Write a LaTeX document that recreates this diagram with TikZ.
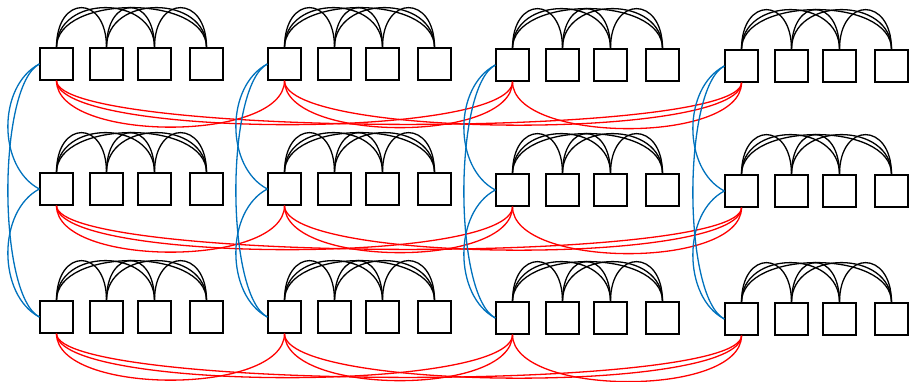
\documentclass[tikz,border=0pt]{standalone}
\definecolor{linkblue}{RGB}{0,114,189}
\begin{document}
\begin{tikzpicture}[x=1pt,y=-1pt,
  cell/.style={draw,line width=1.3pt,minimum width=33pt,minimum height=32pt,inner sep=0pt},
  intra/.style={line width=1.3pt,black},
  rowlink/.style={line width=1.3pt,red},
  collink/.style={line width=1.3pt,linkblue}]
\useasboundingbox (0,0) rectangle (910,382);
% twelve groups of four cells: rows r, columns c, cells k
\foreach \c/\xl/\dy in {1/40/0,2/268/0,3/496/1,4/725/2}
  \foreach \r/\yt in {1/48,2/173,3/301}
    \foreach \k/\dx in {1/0,2/50,3/98,4/150}
      \node[cell] (b-\r-\c-\k) at (\xl+\dx+16.5, \yt+\dy+16) {};
% every pair of cells inside a group, joined over the top
\foreach \r in {1,2,3}
  \foreach \c in {1,...,4}
    \foreach \i/\j in {1/2,1/3,1/4,2/3,2/4,3/4}
      \draw[intra] (b-\r-\c-\i.north) .. controls +(0,-53) and +(0,-53) .. (b-\r-\c-\j.north);
% first cells of the groups in a row, joined underneath
\foreach \r in {1,2,3}
  \foreach \i/\j/\d in {1/2/62,1/3/58,1/4/57,2/3/62,2/4/58,3/4/62}
    \draw[rowlink] (b-\r-\i-1.south) .. controls +(0,\d) and +(0,\d) .. (b-\r-\j-1.south);
% first cells of the groups in a column, joined on the left
\foreach \c in {1,...,4}
  \foreach \i/\j in {1/2,1/3,2/3}
    \draw[collink] (b-\i-\c-1.west) .. controls +(-42,22) and +(-42,-22) .. (b-\j-\c-1.west);
\end{tikzpicture}
\end{document}
